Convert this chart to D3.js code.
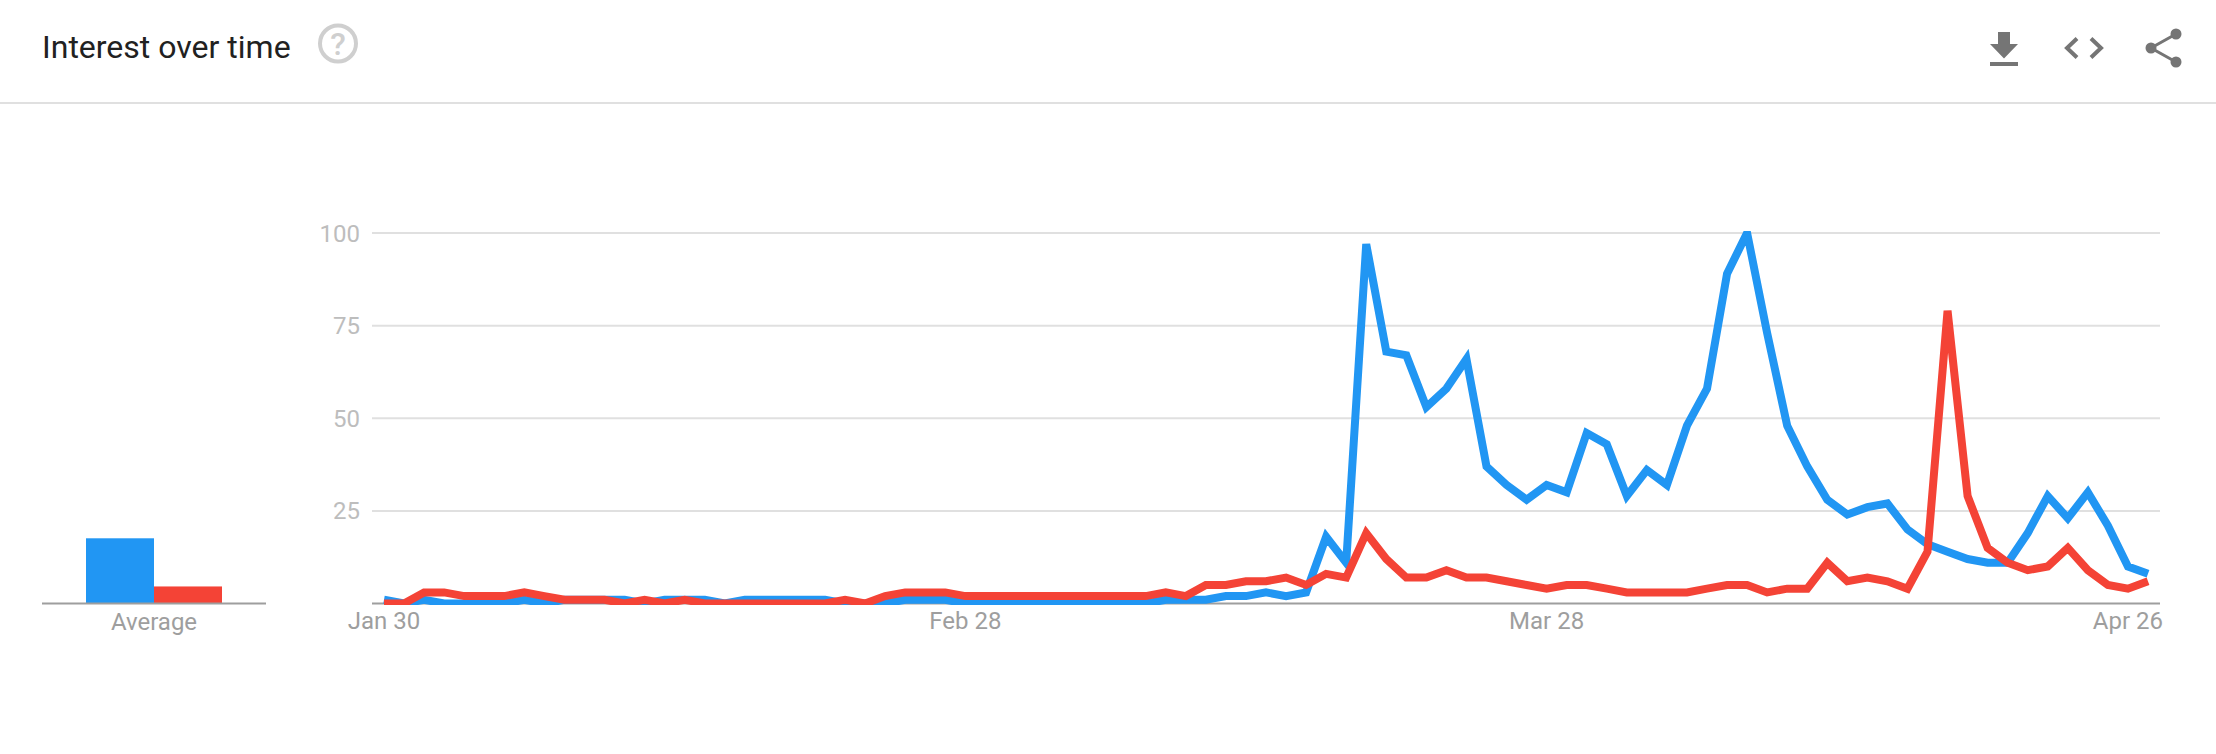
<!DOCTYPE html>
<html><head><meta charset="utf-8">
<script src="https://cdnjs.cloudflare.com/ajax/libs/d3/7.8.5/d3.min.js"></script>
<style>html,body{margin:0;padding:0;background:#fff}svg{display:block}text{font-family:Roboto,sans-serif}</style>
</head><body><svg id="c" width="2216" height="754"></svg>
<script>
const title = "Interest over time";
const startDate = "2020-01-30";
const blueValues = [1,0,1,0,0,0,0,1,0,1,1,1,1,0,1,1,1,0,1,1,1,1,1,0,0,0,1,1,1,0,0,0,0,0,0,0,0,0,0,1,1,1,2,2,3,2,3,18,11,97,68,67,53,58,66,37,32,28,32,30,46,43,29,36,32,48,58,89,100,73,48,37,28,24,26,27,20,16,14,12,11,11,19,29,23,30,21,10,8];
const redValues = [0,0,3,3,2,2,2,3,2,1,1,1,0,1,0,1,0,0,0,0,0,0,0,1,0,2,3,3,3,2,2,2,2,2,2,2,2,2,2,3,2,5,5,6,6,7,5,8,7,19,12,7,7,9,7,7,6,5,4,5,5,4,3,3,3,3,4,5,5,3,4,4,11,6,7,6,4,14,79,29,15,11,9,10,15,9,5,4,6];
const averages = [17.6,4.6];
const yTicks = [25,50,75,100];
const xTickDates = ["2020-01-30","2020-02-28","2020-03-28","2020-04-26"];
const xTickLabels = ["Jan 30","Feb 28","Mar 28","Apr 26"];
const colors = ["#2196F3","#F44336"];

const svg = d3.select("#c");
const dates = blueValues.map((_, i) => d3.utcDay.offset(new Date(startDate), i));
const x = d3.scaleUtc().domain([dates[0], dates[dates.length-1]]).range([384, 2148]);
const y = d3.scaleLinear().domain([0,100]).range([603.5,233]);
const left = 372, right = 2160;

// header
svg.append("text").attr("x",42).attr("y",58).attr("font-size",32).attr("fill","#212121").text(title);
svg.append("circle").attr("cx",338).attr("cy",43.5).attr("r",18).attr("fill","none").attr("stroke","#cfcfcf").attr("stroke-width",4);
svg.append("text").attr("x",338).attr("y",55).attr("text-anchor","middle").attr("font-size",32).attr("font-weight",500).attr("fill","#cfcfcf").text("?");
svg.append("line").attr("x1",0).attr("x2",2216).attr("y1",103).attr("y2",103).attr("stroke","#e0e0e0").attr("stroke-width",2);
const ic = "#757575";
svg.append("path").attr("fill",ic).attr("d","M1998 32h12v12h8l-14 14.5L1990 44h8zM1990 62h28v4h-28z");
svg.append("path").attr("fill","none").attr("stroke",ic).attr("stroke-width",4).attr("d","M2077 38.5L2067 48l10 9.5M2091 38.5L2101 48l-10 9.5");
svg.append("path").attr("fill","none").attr("stroke",ic).attr("stroke-width",3).attr("d","M2176 34L2151 48L2176 62");
[[2176,34],[2151,48],[2176,62]].forEach(p=>svg.append("circle").attr("cx",p[0]).attr("cy",p[1]).attr("r",5.5).attr("fill",ic));

// average
const bx = d3.scaleBand().domain([0,1]).range([86,222]);
svg.selectAll("rect.avg").data(averages).join("rect").attr("class","avg")
  .attr("x",(d,i)=>bx(i)).attr("width",bx.bandwidth()).attr("y",d=>y(d)).attr("height",d=>y(0)-y(d)).attr("fill",(d,i)=>colors[i]);
svg.append("line").attr("x1",42).attr("x2",266).attr("y1",y(0)).attr("y2",y(0)).attr("stroke","#9e9e9e").attr("stroke-width",2);
svg.append("text").attr("x",154).attr("y",630).attr("text-anchor","middle").attr("font-size",24).attr("fill","#9e9e9e").text("Average");

// grid
svg.selectAll("line.grid").data(yTicks).join("line").attr("class","grid")
  .attr("x1",left).attr("x2",right).attr("y1",d=>y(d)).attr("y2",d=>y(d)).attr("stroke","#e0e0e0").attr("stroke-width",2);
svg.append("line").attr("x1",left).attr("x2",right).attr("y1",y(0)).attr("y2",y(0)).attr("stroke","#9e9e9e").attr("stroke-width",2);
svg.selectAll("text.yt").data(yTicks).join("text").attr("class","yt")
  .attr("x",360).attr("y",d=>y(d)+8.5).attr("text-anchor","end").attr("font-size",24).attr("fill","#bdbdbd").text(d=>d);
svg.selectAll("text.xt").data(xTickDates).join("text").attr("class","xt")
  .attr("x",d=>x(new Date(d))).attr("y",629).attr("text-anchor","middle").attr("font-size",24).attr("fill","#9e9e9e").text((d,i)=>xTickLabels[i]);

// lines
svg.append("clipPath").attr("id","clip").append("rect").attr("x",left).attr("y",231).attr("width",right-left).attr("height",374);
const line = d3.line().x((d,i)=>x(dates[i])).y(d=>y(d));
[blueValues, redValues].forEach((s,k)=>{
  svg.append("path").attr("d",line(s)).attr("clip-path","url(#clip)").attr("fill","none")
    .attr("stroke",colors[k]).attr("stroke-width",8).attr("stroke-linejoin","miter");
});
</script></body></html>
